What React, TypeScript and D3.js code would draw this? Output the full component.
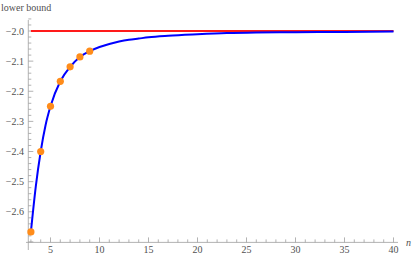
import React, { useEffect, useRef } from "react";
import * as d3 from "d3";

// orange sample points
const pointN = [3, 4, 5, 6, 7, 8, 9];
const pointVal = [-2.667, -2.4, -2.25, -2.167, -2.119, -2.086, -2.067];

// blue curve
const curveN = [3, 3.5, 4, 4.5, 5, 6, 7, 8, 9, 10, 11, 12, 13, 14, 15, 17, 20, 23, 26, 30, 35, 40];
const curveVal = [
  -2.667, -2.516, -2.4, -2.312, -2.25, -2.167, -2.119, -2.086, -2.067, -2.053, -2.043, -2.035,
  -2.029, -2.025, -2.021, -2.016, -2.011, -2.007, -2.005, -2.004, -2.003, -2.002,
];

const limitVal = -2.0;
const xTicks = [5, 10, 15, 20, 25, 30, 35, 40];
const yTicks = [-2.6, -2.5, -2.4, -2.3, -2.2, -2.1, -2.0];

const App = () => {
  const svgRef = useRef<SVGSVGElement | null>(null);

  useEffect(() => {
    const width = 415;
    const height = 256;
    const font = "'Liberation Serif', 'DejaVu Serif', serif";
    const axisColor = "#a0a0a0";
    const textColor = "#505050";

    const svg = d3.select(svgRef.current).attr("width", width).attr("height", height);
    svg.selectAll("*").remove();

    const x = d3.scaleLinear().domain([3, 40]).range([30.9, 393.5]);
    const y = d3.scaleLinear().domain([-2.7, -2.0]).range([241.9, 31]);

    const axisX0 = 28.3;
    const axisY0 = 242.4;

    // x axis
    const gx = svg.append("g");
    gx.append("line")
      .attr("x1", 26).attr("x2", 398)
      .attr("y1", axisY0).attr("y2", axisY0)
      .attr("stroke", axisColor).attr("stroke-width", 0.8);
    d3.range(3, 41).forEach((n) => {
      const major = n % 5 === 0;
      gx.append("line")
        .attr("x1", x(n)).attr("x2", x(n))
        .attr("y1", axisY0).attr("y2", axisY0 - (major ? 5 : 3))
        .attr("stroke", axisColor).attr("stroke-width", 0.8);
    });
    gx.selectAll("text.xt")
      .data(xTicks)
      .enter()
      .append("text")
      .attr("x", (d) => x(d))
      .attr("y", 253)
      .attr("text-anchor", "middle")
      .style("font-family", font)
      .style("font-size", "10px")
      .attr("fill", textColor)
      .text((d) => d);
    gx.append("text")
      .attr("x", 406).attr("y", 246)
      .style("font-family", font).style("font-size", "10px").style("font-style", "italic")
      .attr("fill", textColor)
      .text("n");

    // y axis
    const gy = svg.append("g");
    gy.append("line")
      .attr("x1", axisX0).attr("x2", axisX0)
      .attr("y1", 20).attr("y2", 250)
      .attr("stroke", axisColor).attr("stroke-width", 0.8);
    d3.range(-2.7, -1.96, 0.02).forEach((v) => {
      const major = Math.abs(v * 10 - Math.round(v * 10)) < 1e-6;
      gy.append("line")
        .attr("x1", axisX0).attr("x2", axisX0 + (major ? 5 : 3))
        .attr("y1", y(v)).attr("y2", y(v))
        .attr("stroke", axisColor).attr("stroke-width", 0.8);
    });
    gy.selectAll("text.yt")
      .data(yTicks)
      .enter()
      .append("text")
      .attr("x", 24)
      .attr("y", (d) => y(d) + 3.5)
      .attr("text-anchor", "end")
      .style("font-family", font)
      .style("font-size", "10px")
      .attr("fill", textColor)
      .text((d) => d3.format(".1f")(d).replace("-", "\u2212"));
    gy.append("text")
      .attr("x", 1).attr("y", 11)
      .style("font-family", font).style("font-size", "10px")
      .attr("fill", textColor)
      .text("lower bound");

    // red limit line
    svg.append("line")
      .attr("x1", x(3)).attr("x2", x(40))
      .attr("y1", y(limitVal)).attr("y2", y(limitVal))
      .attr("stroke", "#ff1a1a").attr("stroke-width", 2);

    // blue curve
    const line = d3
      .line<number>()
      .x((_, i) => x(curveN[i]))
      .y((d) => y(d))
      .curve(d3.curveMonotoneX);
    svg.append("path")
      .attr("d", line(curveVal))
      .attr("fill", "none")
      .attr("stroke", "#0000ff")
      .attr("stroke-width", 2);

    // orange points
    svg.selectAll(".pt")
      .data(pointVal)
      .enter()
      .append("circle")
      .attr("class", "pt")
      .attr("cx", (_, i) => x(pointN[i]))
      .attr("cy", (d) => y(d))
      .attr("r", 3.6)
      .attr("fill", "#ff8c1a");
  }, []);

  return (
    <div style={{ position: "absolute", left: 0, top: 0 }}>
      <svg ref={svgRef}></svg>
    </div>
  );
};

export default App;
